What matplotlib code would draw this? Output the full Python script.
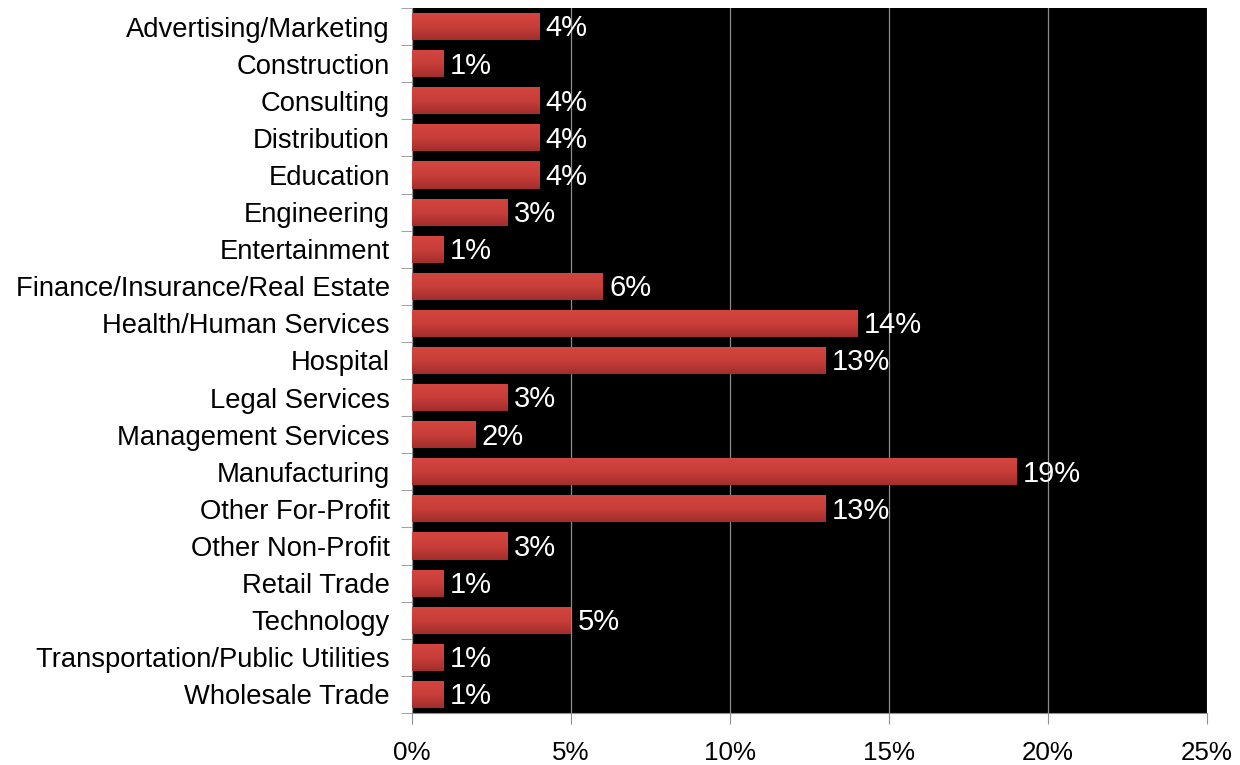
import numpy as np
import matplotlib
matplotlib.use("Agg")
import matplotlib.pyplot as plt
from matplotlib.colors import LinearSegmentedColormap
from matplotlib.ticker import FixedLocator

plt.rcParams['font.family'] = ['Liberation Sans', 'DejaVu Sans']

industries = [
    "Advertising/Marketing", "Construction", "Consulting", "Distribution",
    "Education", "Engineering", "Entertainment",
    "Finance/Insurance/Real Estate", "Health/Human Services", "Hospital",
    "Legal Services", "Management Services", "Manufacturing",
    "Other For-Profit", "Other Non-Profit", "Retail Trade", "Technology",
    "Transportation/Public Utilities", "Wholesale Trade",
]
shares = [4, 1, 4, 4, 4, 3, 1, 6, 14, 13, 3, 2, 19, 13, 3, 1, 5, 1, 1]
x_ticks = [0, 5, 10, 15, 20, 25]

fig = plt.figure(figsize=(12.4, 7.65), dpi=100)
ax = fig.add_axes([412 / 1240, 1 - 713 / 765, 795 / 1240, 705 / 765])
ax.set_facecolor("black")

pos = np.arange(len(industries))
bars = ax.barh(pos, shares, height=0.73, color="#c43c38", zorder=2)

# vertical red gradient, lighter on top, darker at the bottom
grad = LinearSegmentedColormap.from_list("bar", ["#a22e2c", "#c93e3a", "#d4463f"])
g = np.linspace(1, 0, 64).reshape(-1, 1)
for b in bars:
    x0, y0 = b.get_x(), b.get_y()
    w, h = b.get_width(), b.get_height()
    im = ax.imshow(g, cmap=grad, aspect="auto", origin="upper",
                   extent=[x0, x0 + w, y0 + h, y0], zorder=3)
    im.set_clip_path(b)
    b.set_facecolor("none")

for p, v in zip(pos, shares):
    ax.text(v + 0.2, p + 0.05, f"{v}%", color="white", fontsize=21,
            va="center", ha="left", zorder=4)

ax.set_xlim(0, 25)
ax.set_ylim(len(industries) - 0.5, -0.5)

ax.set_xticks(x_ticks)
ax.set_xticklabels([f"{t}%" for t in x_ticks], fontsize=18.7)
ax.tick_params(axis="x", length=8, color="#909090", pad=12)
ax.xaxis.grid(True, color="#8c8c8c", linewidth=0.9, zorder=1)

ax.set_yticks(pos)
ax.set_yticklabels(industries, fontsize=19.7)
ax.tick_params(axis="y", which="major", length=0, pad=16)
ax.yaxis.set_minor_locator(FixedLocator(np.arange(-0.5, len(industries), 1)))
ax.tick_params(axis="y", which="minor", length=8, color="#909090")

for s in ["top", "right"]:
    ax.spines[s].set_visible(False)
for s in ["left", "bottom"]:
    ax.spines[s].set_color("#909090")

fig.savefig("out.png", dpi=100, facecolor="white")
